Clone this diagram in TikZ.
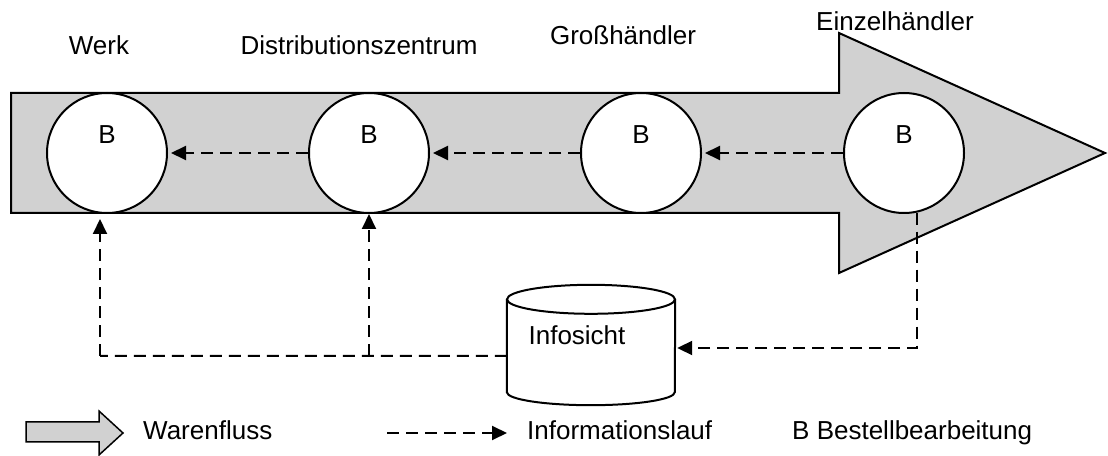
\documentclass[tikz,border=0pt]{standalone}
\usepackage{fontspec}
\setmainfont{Liberation Sans}
\usetikzlibrary{arrows.meta}

\tikzset{
  lbl/.style={font=\fontsize{26bp}{30bp}\selectfont, inner sep=0pt},
  station/.style={circle, draw, line width=2bp, fill=white, minimum size=120bp, inner sep=0pt},
  flowfill/.style={draw, line width=2bp, fill=black!18, line join=miter},
  infoline/.style={line width=2bp, dash pattern=on 12bp off 7bp},
  info/.style={infoline, -{Triangle[length=15bp,width=14bp]}},
}

\begin{document}
\begin{tikzpicture}[x=1bp,y=-1bp]
\useasboundingbox (0,0) rectangle (1108,456);

% goods flow arrow
\draw[flowfill] (11,93) -- (839,93) -- (839,33) -- (1105,153) -- (839,273)
  -- (839,213) -- (11,213) -- cycle;

% order processing stations
\node[station] (c1) at (107,153) {};
\node[station] (c2) at (369,153) {};
\node[station] (c3) at (641,153) {};
\node[station] (c4) at (904,153) {};
\foreach \i in {1,...,4}
  \node[lbl] (b\i) at ([yshift=18bp]c\i.center) {B};

% stage names
\node[lbl, anchor=base] (t1) at (99,55) {Werk};
\node[lbl, anchor=base] (t2) at (359,55) {Distributionszentrum};
\node[lbl, anchor=base] (t3) at (623,45) {Großhändler};
\node[lbl, anchor=base] (t4) at (895,31) {Einzelhändler};

% information flow between stations
\draw[info, shorten >=3bp] (c2) -- (c1);
\draw[info, shorten >=3bp] (c3) -- (c2);
\draw[info, shorten >=3bp] (c4) -- (c3);

% database
\node[minimum width=168bp, minimum height=92.5bp, inner sep=0pt] (db) at (591,345.75) {};
\draw[line width=2bp, fill=white] (db.north west) -- (db.south west)
  arc[start angle=180, end angle=0, x radius=84, y radius=13] -- (db.north east);
\draw[line width=2bp, fill=white] (db.north) ellipse[x radius=84, y radius=14.5];
\node[lbl, anchor=base] (dbt) at (577,345) {Infosicht};

% feedback via database
\draw[info, shorten >=2bp] (c4.-78) |- ([yshift=-2.25bp]db.east);
\coordinate (j1) at (100,356);
\coordinate (j2) at (369,356);
\draw[infoline] ([yshift=-10.25bp]db.west) -- (j1);
\draw[info, shorten >=5bp] (j1) -- (j1 |- c1.south);
\draw[info] (j2) -- (c2.south);

% legend
\draw[flowfill, line width=1.5bp] (26,422) -- (99,422) -- (99,411) -- (123,433)
  -- (99,455) -- (99,442) -- (26,442) -- cycle;
\node[lbl, anchor=base west] (l1) at (143,440) {Warenfluss};
\coordinate (la) at (387,433);
\coordinate (lb) at (507,433);
\draw[info] (la) -- (lb);
\node[lbl, anchor=base west] (l2) at (527,440) {Informationslauf};
\node[lbl, anchor=base west] (l3) at (792,440) {B Bestellbearbeitung};
\end{tikzpicture}
\end{document}
